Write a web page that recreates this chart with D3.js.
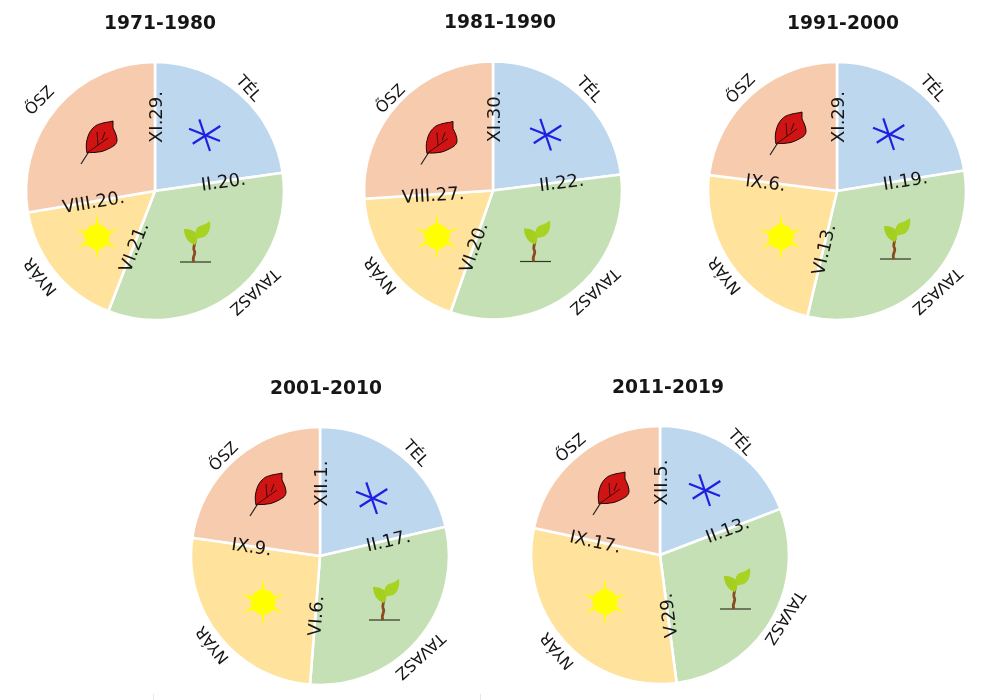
<!DOCTYPE html>
<html lang="hu">
<head>
<meta charset="utf-8">
<title>Évszakok hossza</title>
<script src="https://cdn.jsdelivr.net/npm/d3@7/dist/d3.min.js"></script>
<style>
  html, body { margin: 0; padding: 0; background: #fff; }
  svg { display: block; filter: blur(0.3px); }
  text { font-family: "DejaVu Sans", sans-serif; fill: #161616; }
</style>
</head>
<body>
<svg id="chart" width="994" height="700"></svg>
<script>
// ---- data: season lengths in days, read from the printed start dates ----
const periods = ["1971-1980", "1981-1990", "1991-2000", "2001-2010", "2011-2019"];
const seasons = ["TÉL", "TAVASZ", "NYÁR", "ŐSZ"];
const winterDays = [83, 84, 82, 78, 70];
const springDays = [121, 118, 114, 109, 105];
const summerDays = [60, 68, 85, 95, 111];
const autumnDays = [101, 95, 84, 83, 79];
// start date of each season, printed on the boundary where it begins
const winterStart = ["XI.29.", "XI.30.", "XI.29.", "XII.1.", "XII.5."];
const springStart = ["II.20.", "II.22.", "II.19.", "II.17.", "II.13."];
const summerStart = ["VI.21.", "VI.20.", "VI.13.", "VI.6.", "V.29."];
const autumnStart = ["VIII.20.", "VIII.27.", "IX.6.", "IX.9.", "IX.17."];

// ---- layout (each row: one period; each column: winter, spring, summer, autumn) ----
const centreX = [155, 493, 837, 320, 660];
const centreY = [191, 190.5, 191, 556, 555];
const titleShift = [5, 7, 6, 6, 8];
const pieRadius = 129;
const colours = ["#BDD7EE", "#C5E0B4", "#FFE29B", "#F7CBAD"];
const dateRadius = [
  [74, 69, 60, 62.5],
  [74, 69, 60, 60],
  [74, 69, 60, 72],
  [72.5, 70, 60, 69],
  [72.5, 72, 61, 66]
];
const seasonAngle = [
  [42.4, 135.3, 233.2, 308.1],
  [43.6, 134.7, 233, 311.8],
  [43, 135, 233, 316.7],
  [43, 135, 230.5, 315.9],
  [35.6, 116.7, 227, 320.2]
];
const seasonRadius = [
  [139.4, 142, 143.6, 147],
  [140.3, 143.5, 141.4, 138],
  [141, 142, 141, 141],
  [141, 142, 140, 139],
  [139, 140, 141, 140]
];
const seasonTurn = [
  [48, 138, 232, -45],
  [48, 138, 232, -45],
  [48, 138, 232, -45],
  [48, 138, 232, -45],
  [48, 123, 230, -41]
];
const iconOffset = [
  [[50, -56], [40, 52], [-58, 46], [-55, -49]],
  [[53, -56], [42, 52], [-56, 46], [-53, -48]],
  [[52, -57], [58, 49], [-56, 46], [-48, -58]],
  [[52, -58], [64, 45], [-57, 46], [-51, -62]],
  [[45, -65], [75, 35], [-55, 47], [-48, -62]]
];

const svg = d3.select("#chart");
const rad = d => d * Math.PI / 180;
const deg = a => a * 180 / Math.PI;
const polar = (r, d) => [r * Math.sin(rad(d)), -r * Math.cos(rad(d))];

const pie = d3.pie().sort(null).value(d => d);
const arc = d3.arc().innerRadius(0).outerRadius(pieRadius);

// ---- icons, drawn around a local origin ----
function drawWinter(g) {
  [[-5.7, -15.7, 5, 16], [-16, -6.3, 15, 6], [-12.3, 8.7, 15.3, -9]].forEach(l => {
    g.append("line").attr("x1", l[0]).attr("y1", l[1]).attr("x2", l[2]).attr("y2", l[3])
      .attr("stroke", "#1F1FE3").attr("stroke-width", 2.2);
  });
}
function drawSpring(g) {
  g.append("line").attr("x1", -15).attr("y1", 19).attr("x2", 16).attr("y2", 19)
    .attr("stroke", "#333322").attr("stroke-width", 1.2);
  g.append("path").attr("d", "M-1,19 C-4,14 2,11 -1,7 C-2,4 0,2 0,-2")
    .attr("fill", "none").attr("stroke", "#8A4B20").attr("stroke-width", 2.8);
  g.append("path").attr("d", "M0,2 C-7,0 -11,-7 -11,-14 C-6,-14 0,-13 2,-8 C3,-5 2,-2 0,2 Z").attr("fill", "#A4CF1E");
  g.append("path").attr("d", "M1,-4 C-1,-12 2,-16 5,-17 C9,-18 12,-20 15,-22 C16,-15 14,-9 9,-6 C6,-5 3,-5 1,-4 Z").attr("fill", "#A8D322");
}
function drawSummer(g) {
  [0, 69, 120, 180, 240, 290].forEach(a => {
    const p = polar(23, a), l = polar(10, a - 11), r = polar(10, a + 11);
    g.append("path").attr("d", `M${l}L${p}L${r}Z`).attr("fill", "#FFFF00");
  });
  g.append("circle").attr("r", 12.5).attr("fill", "#FFFF00");
}
function drawAutumn(g) {
  g.append("path").attr("d", "M-19,22 L-12,11").attr("fill", "none").attr("stroke", "#222").attr("stroke-width", 1.2);
  g.append("path")
    .attr("d", "M-13,11 C-14,6 -14,2 -13,-2 C-12,-7 -10,-11 -7,-14 C-3,-18 0,-18 3,-19 C7,-20 10,-20 13,-21 C13,-18 13,-16 13,-14 C15,-10 17,-6 17,-2 C17,2 14,4 10,6 C6,8 2,10 -2,10 C-6,11 -10,10 -13,11 Z")
    .attr("fill", "#D01414").attr("stroke", "#1a0505").attr("stroke-width", 1);
  g.append("path").attr("d", "M-13,11 L8,-4 M-3,-10 L-2,3 M5,-10 L2,-2")
    .attr("fill", "none").attr("stroke", "#3a0808").attr("stroke-width", 1);
}
const iconDrawers = [drawWinter, drawSpring, drawSummer, drawAutumn];

// ---- pies ----
periods.forEach((period, i) => {
  const values = [winterDays[i], springDays[i], summerDays[i], autumnDays[i]];
  const starts = [winterStart[i], springStart[i], summerStart[i], autumnStart[i]];
  const slices = pie(values);
  const g = svg.append("g").attr("transform", `translate(${centreX[i]},${centreY[i]})`);

  g.selectAll("path.slice").data(slices).join("path")
    .attr("class", "slice")
    .attr("d", arc)
    .attr("fill", (d, k) => colours[k])
    .attr("stroke", "#fff")
    .attr("stroke-width", 2.6)
    .attr("stroke-linejoin", "round");

  slices.forEach((s, k) => {
    const at = iconOffset[i][k];
    iconDrawers[k](g.append("g").attr("transform", `translate(${at[0]},${at[1]})`));
  });

  // start dates lie along the boundary where each season begins
  g.selectAll("text.date").data(slices).join("text")
    .attr("class", "date")
    .attr("text-anchor", "middle")
    .attr("dominant-baseline", "central")
    .attr("font-size", 18)
    .attr("transform", (s, k) => {
      const a = deg(s.startAngle);
      const at = polar(dateRadius[i][k], a);
      const turn = (k === 0 || k === 1) ? a - 90 : a - 270;
      return `translate(${at[0]},${at[1]}) rotate(${turn})`;
    })
    .text((s, k) => starts[k]);

  // season names follow the rim
  g.selectAll("text.season").data(slices).join("text")
    .attr("class", "season")
    .attr("text-anchor", "middle")
    .attr("dominant-baseline", "central")
    .attr("font-size", 16)
    .attr("transform", (s, k) => {
      const at = polar(seasonRadius[i][k], seasonAngle[i][k]);
      return `translate(${at[0]},${at[1]}) rotate(${seasonTurn[i][k]})`;
    })
    .text((s, k) => seasons[k]);

  svg.append("text")
    .attr("x", centreX[i] + titleShift[i])
    .attr("y", centreY[i] - 169)
    .attr("text-anchor", "middle")
    .attr("dominant-baseline", "central")
    .attr("font-size", 18.7)
    .attr("font-weight", "bold")
    .text(period);
});

// faint marks along the bottom edge of the picture
[153.5, 480.5].forEach(x => {
  svg.append("line").attr("x1", x).attr("x2", x).attr("y1", 694).attr("y2", 700)
    .attr("stroke", "#e6e6e6").attr("stroke-width", 1);
});
</script>
</body>
</html>
